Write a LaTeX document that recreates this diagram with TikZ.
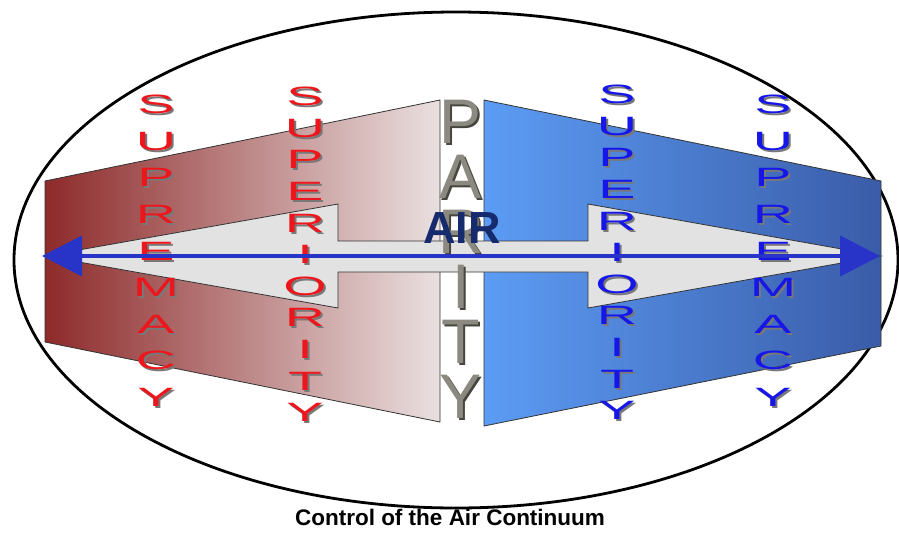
\documentclass[tikz,border=0pt]{standalone}
\usepackage{fontspec}
\setmainfont{Liberation Sans}
\newfontfamily\widefont[FakeStretch=2.1]{Liberation Sans}
\usetikzlibrary{arrows.meta}
\definecolor{redL}{RGB}{142,42,42}
\definecolor{redR}{RGB}{234,224,224}
\definecolor{blueL}{RGB}{92,156,244}
\definecolor{blueR}{RGB}{58,92,168}
\definecolor{greyfill}{RGB}{226,226,226}
\definecolor{arrowblue}{RGB}{40,52,200}
\definecolor{airnavy}{RGB}{22,42,110}
\definecolor{txtred}{RGB}{236,22,28}
\definecolor{txtblue}{RGB}{22,22,232}
\definecolor{shadowgrey}{RGB}{120,120,120}
\definecolor{parityfill}{RGB}{140,138,128}
\definecolor{paritydark}{RGB}{70,70,62}
\begin{document}
\begin{tikzpicture}[x=1pt,y=-1pt,
  panel/.style={draw=black!80,line width=0.8pt},
  stackword/.style={align=center,inner sep=0pt,anchor=north},
  supremacyfont/.style={font=\widefont\fontsize{26.5}{36.6}\selectfont},
  superiorityfont/.style={font=\widefont\fontsize{26.5}{31.6}\selectfont},
  parityfont/.style={font=\fontsize{63}{55}\selectfont},
  wordshadow/.style={text=shadowgrey}
]
\useasboundingbox (0,0) rectangle (899,533);
\fill[white] (0,0) rectangle (899,533);
% ellipse
\draw[line width=2.8pt] (456,260) ellipse [x radius=442pt, y radius=248pt];
% red panel
\shade[left color=redL,right color=redR] (45,181) -- (440,100) -- (440,422) -- (45,342) -- cycle;
\draw[panel] (45,181) -- (440,100) -- (440,422) -- (45,342) -- cycle;
% blue panel
\shade[left color=blueL,right color=blueR] (484,100) -- (881,181) -- (881,346) -- (484,426) -- cycle;
\draw[panel] (484,100) -- (881,181) -- (881,346) -- (484,426) -- cycle;
% grey double arrow
\draw[panel,fill=greyfill] (45,256) -- (338,204) -- (338,241) -- (588,241) -- (588,204) -- (881,256)
  -- (588,308) -- (588,272) -- (338,272) -- (338,308) -- cycle;
% words - shadows
\node[stackword,supremacyfont,wordshadow] (s1s) at (158,97) {S\\U\\P\\R\\E\\M\\A\\C\\Y};
\node[stackword,superiorityfont,wordshadow] (s2s) at (307,89) {S\\U\\P\\E\\R\\I\\O\\R\\I\\T\\Y};
\node[stackword,superiorityfont,wordshadow] (s3s) at (619,87) {S\\U\\P\\E\\R\\I\\O\\R\\I\\T\\Y};
\node[stackword,supremacyfont,wordshadow] (s4s) at (775,97) {S\\U\\P\\R\\E\\M\\A\\C\\Y};
% words
\node[stackword,supremacyfont,text=txtred] (s1) at (156,95) {S\\U\\P\\R\\E\\M\\A\\C\\Y};
\node[stackword,superiorityfont,text=txtred] (s2) at (305,87) {S\\U\\P\\E\\R\\I\\O\\R\\I\\T\\Y};
\node[stackword,superiorityfont,text=txtblue] (s3) at (617,85) {S\\U\\P\\E\\R\\I\\O\\R\\I\\T\\Y};
\node[stackword,supremacyfont,text=txtblue] (s4) at (773,95) {S\\U\\P\\R\\E\\M\\A\\C\\Y};
% parity
\node[stackword,parityfont,text=paritydark] (ps) at (463,102) {P\\A\\R\\I\\T\\Y};
\node[stackword,parityfont,text=parityfill] (p) at (461,100) {P\\A\\R\\I\\T\\Y};
% AIR
\node[font=\bfseries\fontsize{45}{45}\selectfont,text=airnavy,inner sep=0pt,anchor=base] (air) at (462,243) {AIR};
% blue arrow
\coordinate (lt) at (42,256);
\coordinate (rt) at (880,256);
\draw[arrowblue,line width=4pt,{Triangle[length=40pt,width=40pt]}-{Triangle[length=40pt,width=40pt]}] (lt) -- (rt);
% caption
\node[font=\bfseries\fontsize{22.5}{25}\selectfont,inner sep=0pt,anchor=base] (cap) at (450,525) {Control of the Air Continuum};
\end{tikzpicture}
\end{document}
